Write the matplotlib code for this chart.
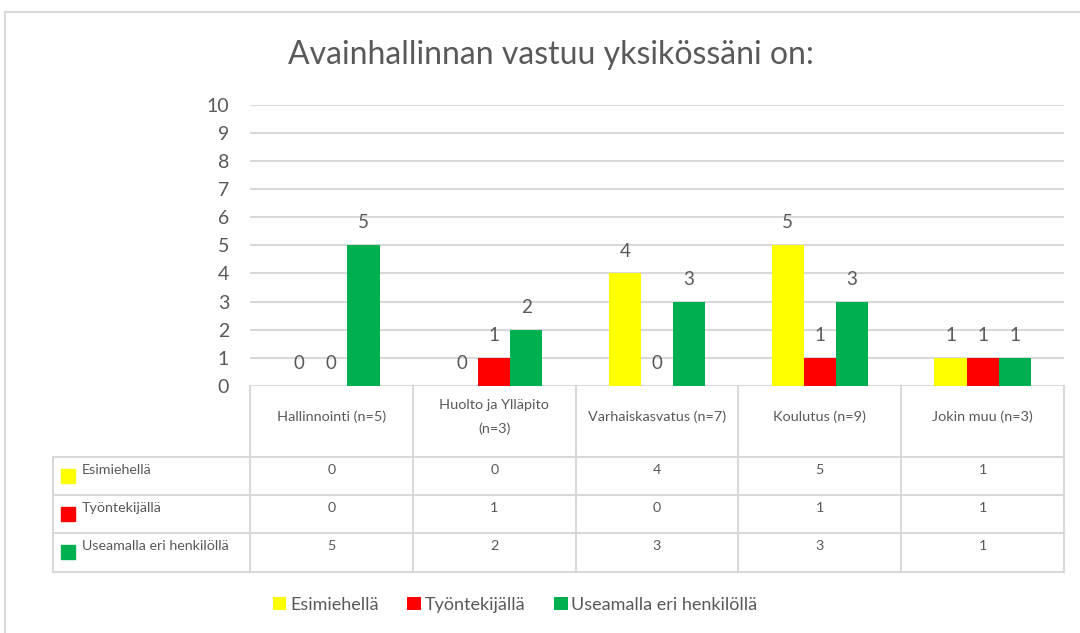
import matplotlib
matplotlib.use("Agg")
import matplotlib.pyplot as plt
from matplotlib.patches import Patch
from matplotlib.lines import Line2D
import numpy as np

plt.rcParams["font.family"] = ["Lato", "DejaVu Sans"]

categories = ["Hallinnointi (n=5)", "Huolto ja Ylläpito\n(n=3)", "Varhaiskasvatus (n=7)",
              "Koulutus (n=9)", "Jokin muu (n=3)"]
series_names = ["Esimiehellä", "Työntekijällä", "Useamalla eri henkilöllä"]
esimiehella = [0, 0, 4, 5, 1]
tyontekijalla = [0, 1, 0, 1, 1]
useamalla = [5, 2, 3, 3, 1]
values = [esimiehella, tyontekijalla, useamalla]
colors = ["#FFFF00", "#FF0000", "#00B050"]

text_col = "#595959"
grid_col = "#d9d9d9"

W, H = 1080, 633
fig = plt.figure(figsize=(W / 100, H / 100), dpi=100)

# outer chart frame (top and left edges visible)
fig.add_artist(Line2D([5 / W, 1], [1 - 12 / H, 1 - 12 / H], color=grid_col, lw=1.5))
fig.add_artist(Line2D([5 / W, 5 / W], [0, 1 - 12 / H], color=grid_col, lw=1.5))

fig.text(551 / W, 1 - 55 / H, "Avainhallinnan vastuu yksikössäni on:", ha="center", va="center",
         fontsize=23, color=text_col)

# main plot area
left, right, top, bottom = 250, 1064, 104.5, 386
ax = fig.add_axes([left / W, 1 - bottom / H, (right - left) / W, (bottom - top) / H])
x = np.arange(len(categories))
bw = 0.197
for i, (vals, col, name) in enumerate(zip(values, colors, series_names)):
    bars = ax.bar(x + (i - 1) * bw, vals, bw, color=col, label=name, zorder=3)
    ax.bar_label(bars, padding=10, fontsize=13.5, color=text_col)

ax.set_xlim(-0.5, len(categories) - 0.5)
ax.set_ylim(0, 10)
ax.set_yticks(range(0, 11))
ax.yaxis.grid(True, color=grid_col, lw=1.5, zorder=0)
ax.set_xticks([])
ax.tick_params(axis="y", length=0, pad=15, labelsize=14, labelcolor=text_col)
for s in ax.spines.values():
    s.set_visible(False)

# data table below the plot
cw = (right - left) / len(categories)
tleft, tbottom = 53, 572
xl = -0.5 - (left - tleft) / cw
axt = fig.add_axes([tleft / W, 1 - tbottom / H, (right - tleft) / W, (tbottom - bottom) / H])
axt.set_xlim(xl, len(categories) - 0.5)
axt.set_ylim(tbottom - bottom, 0)
axt.axis("off")

row_edges = [0, 71, 109, 147, 186]
for k in range(len(categories) + 1):
    axt.plot([k - 0.5, k - 0.5], [0, 186], color=grid_col, lw=1.5, clip_on=False)
for yy in row_edges[1:]:
    axt.plot([xl, len(categories) - 0.5], [yy, yy], color=grid_col, lw=1.5, clip_on=False)
axt.plot([xl, xl], [71, 186], color=grid_col, lw=1.5, clip_on=False)

for j, cat in enumerate(categories):
    axt.text(j, 31, cat, ha="center", va="center", fontsize=10.4, color=text_col, linespacing=2.1)

row_y = [84, 122, 160]
for i, (vals, col, name) in enumerate(zip(values, colors, series_names)):
    yy = row_y[i]
    axt.plot(xl + (68.5 - tleft) / cw, yy + 6, marker="s", markersize=10.5, color=col, clip_on=False)
    axt.text(xl + (82 - tleft) / cw, yy, name, ha="left", va="center", fontsize=10.3, color=text_col)
    for j, v in enumerate(vals):
        axt.text(j, yy, str(v), ha="center", va="center", fontsize=10.3, color=text_col)

handles = [Patch(facecolor=c, label=n) for c, n in zip(colors, series_names)]
fig.legend(handles=handles, loc="center", bbox_to_anchor=(515 / W, 1 - 605 / H), ncol=3,
           frameon=False, fontsize=13, handlelength=0.75, handleheight=0.75,
           handletextpad=0.2, columnspacing=1.6, labelcolor=text_col)

fig.savefig("out.png", dpi=100, facecolor="white")
